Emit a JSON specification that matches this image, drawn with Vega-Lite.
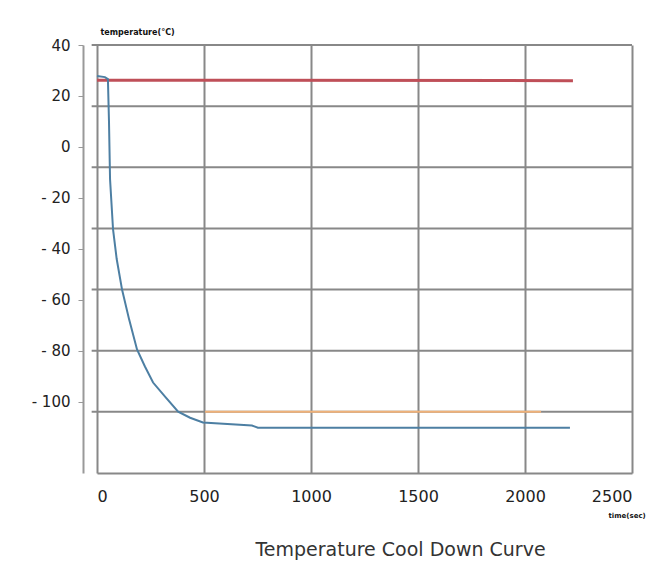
{
  "$schema": "https://vega.github.io/schema/vega-lite/v6.json",
  "width": 535,
  "height": 428,
  "autosize": {"type": "none"},
  "padding": {"left": 97, "top": 45, "right": 25, "bottom": 98},
  "background": "white",
  "config": {"view": {"stroke": null}, "font": "DejaVu Sans"},
  "title": {
    "text": "Temperature Cool Down Curve",
    "orient": "bottom",
    "anchor": "middle",
    "dx": 36,
    "offset": 23,
    "fontSize": 19,
    "fontWeight": "normal",
    "color": "#333333",
    "font": "DejaVu Sans"
  },
  "datasets": {
    "grid": [
      {"temp": 40}, {"temp": 16}, {"temp": -8}, {"temp": -32},
      {"temp": -56}, {"temp": -80}, {"temp": -104}
    ],
    "setpoint": [
      {"time": 505, "temp": -104},
      {"time": 2075, "temp": -104}
    ],
    "ambient": [
      {"time": 0, "temp": 26.2},
      {"time": 2224, "temp": 26.0}
    ],
    "cooldown": [
      {"time": 0, "temp": 27.8},
      {"time": 37, "temp": 27.4},
      {"time": 51, "temp": 26.6},
      {"time": 56, "temp": 10.1},
      {"time": 61, "temp": -12.7},
      {"time": 75, "temp": -32.4},
      {"time": 92, "temp": -44},
      {"time": 117, "temp": -56},
      {"time": 150, "temp": -67.7},
      {"time": 187, "temp": -79.5},
      {"time": 224, "temp": -86.2},
      {"time": 262, "temp": -92.5},
      {"time": 318, "temp": -98},
      {"time": 379, "temp": -103.9},
      {"time": 435, "temp": -106.3},
      {"time": 495, "temp": -108.2},
      {"time": 724, "temp": -109.4},
      {"time": 752, "temp": -110.2},
      {"time": 2210, "temp": -110.2}
    ]
  },
  "layer": [
    {
      "data": {"name": "grid"},
      "mark": {"type": "rule", "color": "#888888", "strokeWidth": 2},
      "encoding": {
        "y": {"field": "temp", "type": "quantitative", "title": "temperature(°C)"},
        "x": {"datum": -25, "type": "quantitative", "title": "time(sec)"},
        "x2": {"datum": 2500}
      }
    },
    {
      "data": {"name": "setpoint"},
      "mark": {"type": "line", "color": "#f0b27a", "strokeWidth": 2},
      "encoding": {
        "x": {"field": "time", "type": "quantitative", "title": "time(sec)"},
        "y": {"field": "temp", "type": "quantitative", "title": "temperature(°C)"}
      }
    },
    {
      "data": {"name": "ambient"},
      "mark": {"type": "line", "color": "#bf4f58", "strokeWidth": 3},
      "encoding": {
        "x": {"field": "time", "type": "quantitative", "title": "time(sec)"},
        "y": {"field": "temp", "type": "quantitative", "title": "temperature(°C)"}
      }
    },
    {
      "data": {"name": "cooldown"},
      "mark": {"type": "line", "color": "#4d7fa3", "strokeWidth": 2},
      "encoding": {
        "x": {
          "field": "time",
          "type": "quantitative",
          "title": "time(sec)",
          "scale": {"domain": [0, 2500], "nice": false, "zero": false},
          "axis": {
            "values": [0, 500, 1000, 1500, 2000, 2500],
            "format": "d",
            "grid": true,
            "gridColor": "#888888",
            "gridWidth": 2,
            "domainColor": "#888888",
            "domainWidth": 2,
            "ticks": false,
            "labelPadding": 15,
            "labelFont": "DejaVu Sans",
            "labelFontSize": 16,
            "labelColor": "#222222",
            "titleX": 511,
            "titleY": 42,
            "titleAlign": "left",
            "titleBaseline": "middle",
            "titleFontSize": 7,
            "titleFontWeight": "bold",
            "titleColor": "#111111"
          }
        },
        "y": {
          "field": "temp",
          "type": "quantitative",
          "title": "temperature(°C)",
          "scale": {"domain": [-128, 40], "nice": false, "zero": false},
          "axis": {
            "values": [40, 20, 0, -20, -40, -60, -80, -100],
            "labelExpr": "datum.value < 0 ? '- ' + abs(datum.value) : datum.label",
            "grid": false,
            "offset": 14,
            "domainColor": "#999999",
            "domainWidth": 2,
            "tickColor": "#999999",
            "tickSize": 5,
            "tickWidth": 1,
            "labelPadding": 8,
            "labelFont": "DejaVu Sans",
            "labelFontSize": 15,
            "labelColor": "#222222",
            "titleAngle": 0,
            "titleX": 17,
            "titleY": -13,
            "titleAlign": "left",
            "titleBaseline": "middle",
            "titleFontSize": 8,
            "titleFontWeight": "bold",
            "titleColor": "#111111"
          }
        }
      }
    }
  ]
}
